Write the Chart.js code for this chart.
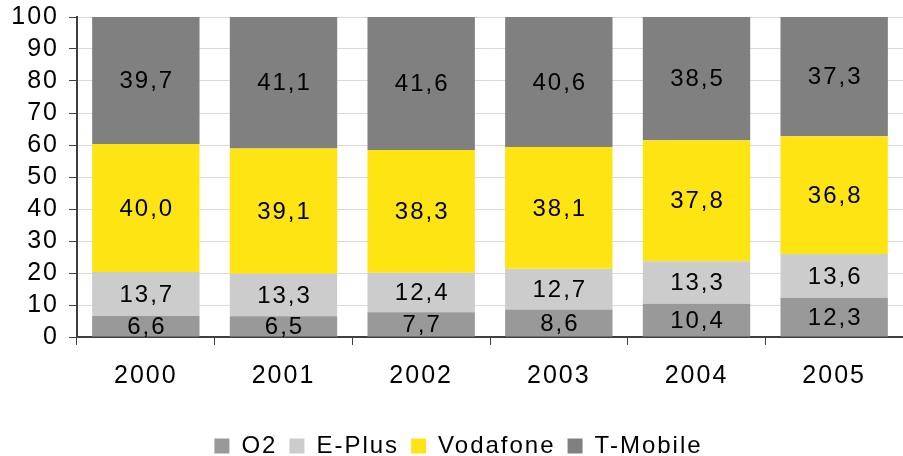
<!DOCTYPE html>
<html>
<head>
<meta charset="utf-8">
<script src="https://cdn.jsdelivr.net/npm/chart.js@4/dist/chart.umd.min.js"></script>
<style>
  body { margin: 0; background: #fff; }
  #wrap { width: 903px; height: 456px; }
</style>
</head>
<body>
<div id="wrap"><canvas id="grafico"></canvas></div>
<script>
var jahre = ['2000', '2001', '2002', '2003', '2004', '2005'];
var o2 = [6.6, 6.5, 7.7, 8.6, 10.4, 12.3];
var ePlus = [13.7, 13.3, 12.4, 12.7, 13.3, 13.6];
var vodafone = [40.0, 39.1, 38.3, 38.1, 37.8, 36.8];
var tMobile = [39.7, 41.1, 41.6, 40.6, 38.5, 37.3];

var schrift = "'Liberation Sans', Arial, sans-serif";

// etwas Buchstabenabstand wie im Original
var abstand = {
    id: 'abstand',
    beforeUpdate: function(chart) { chart.ctx.letterSpacing = '2px'; },
    beforeDraw: function(chart) { chart.ctx.letterSpacing = '2px'; }
};

// schreibt die Werte mitten in jedes Segment
var werteLabels = {
    id: 'werteLabels',
    afterDatasetsDraw: function(chart) {
        var ctx = chart.ctx;
        ctx.save();
        ctx.font = '24px ' + schrift;
        ctx.fillStyle = '#000';
        ctx.textAlign = 'center';
        ctx.textBaseline = 'middle';
        chart.data.datasets.forEach(function(ds, i) {
            chart.getDatasetMeta(i).data.forEach(function(bar, j) {
                var txt = ds.data[j].toFixed(1).replace('.', ',');
                ctx.fillText(txt, bar.x + 1, (bar.y + bar.base) / 2 + 1);
            });
        });
        ctx.restore();
    }
};

new Chart(document.getElementById('grafico'), {
    type: 'bar',
    data: {
        labels: jahre,
        datasets: [
            { label: 'O2', data: o2, backgroundColor: '#999999' },
            { label: 'E-Plus', data: ePlus, backgroundColor: '#cccccc' },
            { label: 'Vodafone', data: vodafone, backgroundColor: '#ffe414' },
            { label: 'T-Mobile', data: tMobile, backgroundColor: '#808080' }
        ]
    },
    options: {
        responsive: true,
        maintainAspectRatio: false,
        animation: false,
        layout: { padding: { top: 0, right: -14, left: 0, bottom: -12 } },
        datasets: { bar: { barPercentage: 0.78, categoryPercentage: 1.0 } },
        plugins: {
            legend: {
                position: 'bottom',
                labels: {
                    font: { size: 24, family: schrift },
                    color: '#000',
                    boxWidth: 15,
                    boxHeight: 15,
                    padding: 12
                }
            },
            tooltip: { enabled: false }
        },
        scales: {
            x: {
                stacked: true,
                afterFit: function(s) { s.height = 85; },
                grid: { drawOnChartArea: false, tickLength: 8, color: '#404040', tickColor: '#404040' },
                border: { color: '#404040', width: 2 },
                ticks: { font: { size: 25, family: schrift }, color: '#000', padding: 16 }
            },
            y: {
                stacked: true,
                min: 0,
                max: 100,
                afterFit: function(s) { s.width = 77; s.paddingTop = 17; },
                ticks: { stepSize: 10, autoSkip: false, font: { size: 25, family: schrift }, color: '#000', padding: 10 },
                grid: { color: '#d9d9d9', tickColor: '#404040', tickLength: 8 },
                border: { color: '#404040', width: 2 }
            }
        }
    },
    plugins: [abstand, werteLabels]
});
</script>
</body>
</html>
